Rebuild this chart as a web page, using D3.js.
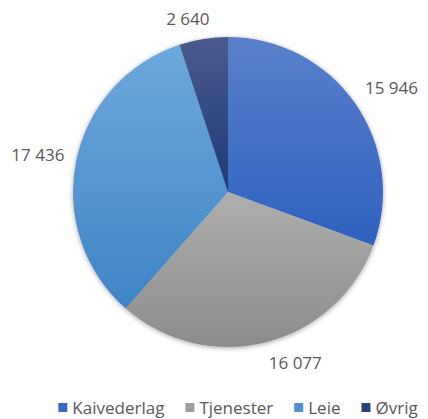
<!DOCTYPE html>
<html>
<head>
<meta charset="utf-8">
<script src="https://cdn.jsdelivr.net/npm/d3@7"></script>
<style>
  html, body { margin: 0; padding: 0; background: #fff; }
  svg { display: block; }
  text { font-family: "Open Sans", "Liberation Sans", sans-serif; fill: #595959; }
</style>
</head>
<body>
<svg id="chart" width="428" height="419"></svg>
<script>
const categories = ["Kaivederlag", "Tjenester", "Leie", "Øvrig"];
const values = [15946, 16077, 17436, 2640];
const labels = ["15 946", "16 077", "17 436", "2 640"];
const topColors = ["#5B80CD", "#AEAEAE", "#6EA8DB", "#4B5B8D"];
const bottomColors = ["#2E60BF", "#8C8C8C", "#3F84C6", "#1D3A78"];
const legendColors = ["#3A68C6", "#9E9E9E", "#4F93D2", "#26427E"];

const W = 428, H = 419;
const cx = 228, cy = 192, r = 155;
const svg = d3.select("#chart");
const defs = svg.append("defs");

const filt = defs.append("filter").attr("id", "shadow").attr("x", "-10%").attr("y", "-10%").attr("width", "120%").attr("height", "120%");
filt.append("feGaussianBlur").attr("in", "SourceAlpha").attr("stdDeviation", 2.5).attr("result", "b");
filt.append("feOffset").attr("in", "b").attr("dx", 0).attr("dy", 1).attr("result", "o");
filt.append("feComponentTransfer").attr("in", "o").attr("result", "t")
  .append("feFuncA").attr("type", "linear").attr("slope", 0.35);
const merge = filt.append("feMerge");
merge.append("feMergeNode").attr("in", "t");
merge.append("feMergeNode").attr("in", "SourceGraphic");

categories.forEach((c, i) => {
  const g = defs.append("linearGradient").attr("id", "grad" + i)
    .attr("x1", 0).attr("y1", 0).attr("x2", 0).attr("y2", 1);
  g.append("stop").attr("offset", "0%").attr("stop-color", topColors[i]);
  g.append("stop").attr("offset", "100%").attr("stop-color", bottomColors[i]);
});

const data = categories.map((c, i) => ({ cat: c, value: values[i], label: labels[i], i }));
const pie = d3.pie().value(d => d.value).sort(null);
const arcs = pie(data);
const arc = d3.arc().innerRadius(0).outerRadius(r);

const gPie = svg.append("g").attr("transform", `translate(${cx},${cy})`).attr("filter", "url(#shadow)");
gPie.selectAll("path").data(arcs).join("path")
  .attr("d", arc)
  .attr("fill", d => `url(#grad${d.data.i})`);

// data labels (outside end)
const fs = 17;
const clamp = v => Math.max(-1, Math.min(1, v));
const gLab = svg.append("g").attr("transform", `translate(${cx},${cy})`);
gLab.selectAll("text").data(arcs).join("text")
  .attr("font-size", fs)
  .attr("text-anchor", "middle")
  .attr("dominant-baseline", "central")
  .text(d => d.data.label)
  .each(function(d) {
    const a = (d.startAngle + d.endAngle) / 2;
    const s = Math.sin(a), c = Math.cos(a);
    const w = this.getComputedTextLength();
    const h = fs;
    const pr = r + 12;
    const px = s * pr, py = -c * pr;
    const dx = w / 2 * clamp(s * 4), dy = h / 2 * clamp(-c * 4);
    d3.select(this).attr("x", px + dx).attr("y", py + dy + (Math.abs(c) < 0.3 ? 3 : 0));
  });

// legend
const lfs = 17, sq = 9, gapSq = 5, gapItem = 21;
const gLeg = svg.append("g");
const items = gLeg.selectAll("g").data(data).join("g");
items.append("rect").attr("width", sq).attr("height", sq).attr("fill", d => legendColors[d.i]);
items.append("text").attr("font-size", lfs).attr("x", sq + gapSq).attr("y", sq / 2)
  .attr("dominant-baseline", "central").text(d => d.cat);
const widths = [];
items.each(function() {
  const t = d3.select(this).select("text").node().getComputedTextLength();
  widths.push(sq + gapSq + t);
});
const total = d3.sum(widths) + gapItem * (widths.length - 1);
let x0 = (W - total) / 2 + 24;
items.attr("transform", (d, i) => {
  const tx = x0;
  x0 += widths[i] + gapItem;
  return `translate(${tx},${403})`;
});
</script>
</body>
</html>
